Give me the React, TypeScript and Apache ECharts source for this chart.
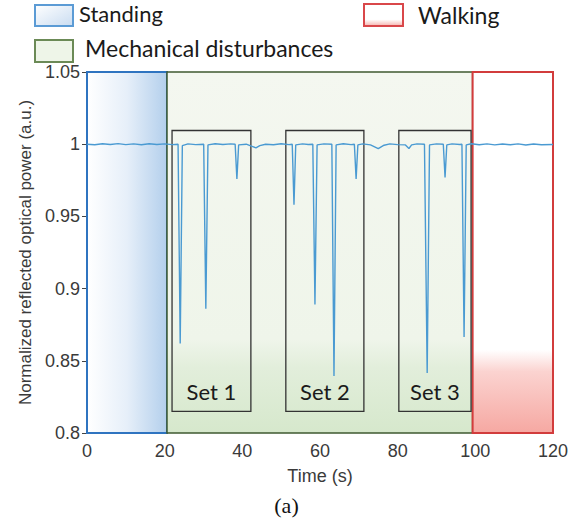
import React, { useEffect, useRef } from "react";
import * as echarts from "echarts";

const timeS = [
  0, 2, 4, 6, 8, 10, 12, 14, 16, 18, 20, 22,
  23.45, 24.0, 24.55, 26, 28, 30.05, 30.6, 31.15, 33, 35, 37, 38.15, 38.6, 39.05,
  41, 42.5, 43.5, 44.5, 46, 48, 50, 52,
  52.85, 53.3, 53.75, 55.5, 57, 58.15, 58.7, 59.25, 61, 63.05, 63.6, 64.15,
  66, 68, 68.85, 69.3, 69.75, 71, 73, 75, 76.5, 78, 80, 82, 82.9, 83.6, 85,
  86.9, 87.6, 88.2, 90, 91.75, 92.2, 92.65, 94, 96, 96.55, 97.1, 97.65, 99,
  101, 103, 105, 107, 109, 111, 113, 115, 117, 120,
];
const power = [
  1.0, 0.9996, 1.0003, 0.9998, 1.0004, 0.9997, 1.0002, 0.9996, 1.0003, 0.9998, 1.0002, 0.9997,
  1.0, 0.862, 0.999, 1.0002, 0.9997, 1.0, 0.886, 0.9995, 1.0003, 0.9998, 1.0002, 1.0, 0.976, 0.9995,
  1.0, 0.9985, 0.9975, 0.999, 1.0, 0.9996, 1.0003, 0.9997,
  1.0, 0.958, 0.9995, 1.0002, 0.9998, 1.0, 0.889, 0.9995, 1.0002, 1.0, 0.8395, 0.9995,
  1.0003, 0.9997, 1.0, 0.976, 0.9995, 1.0002, 0.9995, 0.997, 0.9993, 1.0002, 0.9997, 0.9995, 0.997, 0.9995, 1.0002,
  1.0, 0.8416, 0.9995, 1.0002, 1.0, 0.977, 0.9995, 1.0002, 0.9998, 1.0, 0.8665, 0.9995, 1.0003,
  0.9996, 1.0002, 0.9995, 1.0001, 0.9996, 1.0002, 0.9994, 1.0001, 0.9996, 0.9998,
];

// Activity phases [start, end] in seconds
const phaseNames = ["Standing", "Mechanical disturbances", "Walking"];
const phaseStart = [0, 20.6, 99.3];
const phaseEnd = [20.6, 99.3, 120];

// Disturbance sets: boxes [x0, x1, yTop, yBottom]
const setNames = ["Set 1", "Set 2", "Set 3"];
const setX0 = [21.9, 51.2, 80.3];
const setX1 = [42.2, 71.3, 98.9];
const setYTop = 1.0095;
const setYBottom = 0.815;

const yTicks = [0.8, 0.85, 0.9, 0.95, 1, 1.05];
const xTicks = [0, 20, 40, 60, 80, 100, 120];

export default function App() {
  const ref = useRef<HTMLDivElement>(null);
  useEffect(() => {
    if (!ref.current) return;
    const chart = echarts.init(ref.current, undefined, { renderer: "svg" });
    const G = echarts.graphic.LinearGradient;
    const phaseStyles = [
      {
        color: new G(0, 0, 1, 0, [
          { offset: 0, color: "#ffffff" },
          { offset: 0.5, color: "#e6eff9" },
          { offset: 1, color: "#b3cfec" },
        ]),
        borderColor: "#2f74c0",
        borderWidth: 2,
      },
      {
        color: new G(0, 0, 0, 1, [
          { offset: 0, color: "#f4f7f0" },
          { offset: 0.74, color: "#eff5ea" },
          { offset: 0.82, color: "#e2eedb" },
          { offset: 1, color: "#d6e8cc" },
        ]),
        borderColor: "#3f5a30",
        borderWidth: 1.5,
      },
      {
        color: new G(0, 0, 0, 1, [
          { offset: 0, color: "#ffffff" },
          { offset: 0.77, color: "#ffffff" },
          { offset: 0.83, color: "#fbd3d0" },
          { offset: 1, color: "#f6a8a2" },
        ]),
        borderColor: "#d23c3c",
        borderWidth: 2,
      },
    ];
    const phaseAreas = phaseNames.map((n, i) => [
      { name: n, xAxis: phaseStart[i], yAxis: 1.05, itemStyle: phaseStyles[i], label: { show: false } },
      { xAxis: phaseEnd[i], yAxis: 0.8 },
    ]);
    const setAreas = setNames.map((n, i) => [
      {
        name: n,
        xAxis: setX0[i],
        yAxis: setYTop,
        itemStyle: { color: "rgba(0,0,0,0)", borderColor: "#333333", borderWidth: 1.3 },
        label: {
          show: true,
          position: "insideBottom",
          distance: 9,
          formatter: n,
          fontFamily: "Lato",
          fontSize: 22,
          color: "#1a1a1a",
        },
      },
      { xAxis: setX1[i], yAxis: setYBottom },
    ]);

    const tickStyle = { show: true, inside: true, length: 5, lineStyle: { color: "#444", width: 1 } };
    const labelStyle = { fontFamily: "Liberation Sans", fontSize: 18, color: "#3a3a3a" };

    chart.setOption({
      animation: false,
      grid: { left: 87, top: 72, width: 466, height: 361, containLabel: false },
      xAxis: [
        {
          type: "value",
          min: xTicks[0],
          max: xTicks[xTicks.length - 1],
          interval: 20,
          axisLine: { show: false },
          axisTick: tickStyle,
          splitLine: { show: false },
          axisLabel: { ...labelStyle, margin: 9 },
          name: "Time (s)",
          nameLocation: "middle",
          nameGap: 34,
          nameTextStyle: { fontFamily: "Liberation Sans", fontSize: 18, color: "#3a3a3a" },
        },
        {
          type: "value",
          position: "top",
          min: 0,
          max: 120,
          interval: 20,
          axisLine: { show: false },
          axisTick: tickStyle,
          splitLine: { show: false },
          axisLabel: { show: false },
        },
      ],
      yAxis: [
        {
          type: "value",
          min: yTicks[0],
          max: yTicks[yTicks.length - 1],
          interval: 0.05,
          axisLine: { show: false },
          axisTick: tickStyle,
          splitLine: { show: false },
          axisLabel: { ...labelStyle, margin: 7 },
          name: "Normalized reflected optical power (a.u.)",
          nameLocation: "middle",
          nameGap: 46,
          nameTextStyle: { fontFamily: "Liberation Sans", fontSize: 17, color: "#3a3a3a" },
        },
        {
          type: "value",
          position: "right",
          min: 0.8,
          max: 1.05,
          interval: 0.05,
          axisLine: { show: false },
          axisTick: tickStyle,
          splitLine: { show: false },
          axisLabel: { show: false },
        },
      ],
      series: [
        {
          type: "line",
          data: timeS.map((t, i) => [t, power[i]]),
          showSymbol: false,
          symbol: "none",
          clip: false,
          z: 3,
          lineStyle: { color: "#4a9ad2", width: 1.4 },
          markArea: {
            silent: true,
            data: [...phaseAreas, ...setAreas],
          },
        },
      ],
      graphic: [
        {
          type: "rect",
          shape: { x: 35, y: 5, width: 38, height: 21 },
          style: {
            fill: new G(0, 0, 1, 1, [
              { offset: 0, color: "#ffffff" },
              { offset: 1, color: "#c9dcf1" },
            ]),
            stroke: "#5b9bd5",
            lineWidth: 2,
          },
        },
        {
          type: "text",
          left: 79,
          top: 2,
          style: { text: "Standing", fontFamily: "Lato", fontSize: 22, fill: "#1a1a1a" },
        },
        {
          type: "rect",
          shape: { x: 364, y: 4, width: 39, height: 22 },
          style: {
            fill: new G(0, 0, 0, 1, [
              { offset: 0, color: "#ffffff" },
              { offset: 0.7, color: "#ffffff" },
              { offset: 1, color: "#f6b3ae" },
            ]),
            stroke: "#d9474a",
            lineWidth: 2,
          },
        },
        {
          type: "text",
          left: 418,
          top: 3,
          style: { text: "Walking", fontFamily: "Lato", fontSize: 23, fill: "#1a1a1a" },
        },
        {
          type: "rect",
          shape: { x: 35, y: 40, width: 38, height: 22 },
          style: { fill: "#eef5e8", stroke: "#6b8a56", lineWidth: 2 },
        },
        {
          type: "text",
          left: 85,
          top: 36,
          style: { text: "Mechanical disturbances", fontFamily: "Lato", fontSize: 23, fill: "#1a1a1a" },
        },
        {
          type: "text",
          left: "center",
          top: 494,
          style: { text: "(a)", fontFamily: "Liberation Serif", fontSize: 22, fill: "#111" },
        },
      ],
    });
    return () => chart.dispose();
  }, []);
  return (
    <div
      ref={ref}
      style={{ position: "fixed", left: 0, top: 0, width: 573, height: 529, background: "#fff" }}
    />
  );
}
